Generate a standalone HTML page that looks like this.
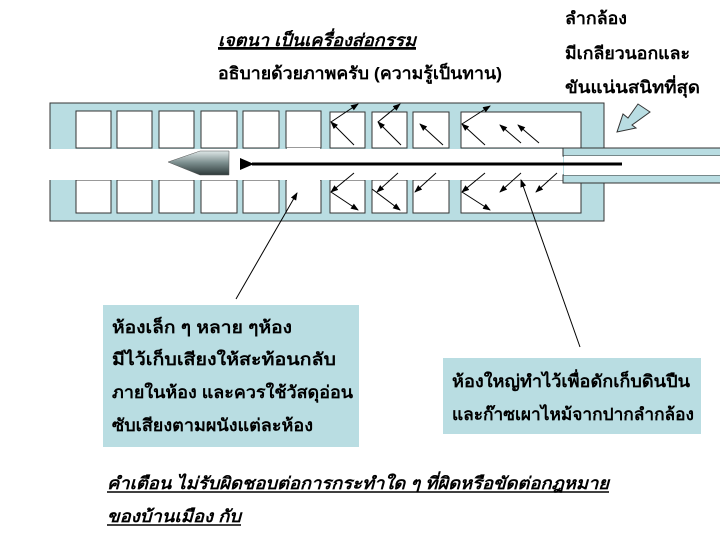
<!DOCTYPE html>
<html><head><meta charset="utf-8"><style>
html,body{margin:0;padding:0;background:#fff;}
svg{display:block}
text{font-family:"Liberation Sans","DejaVu Sans",sans-serif;font-weight:bold;fill:#000;}
</style></head><body>
<svg width="720" height="540" viewBox="0 0 720 540" xmlns="http://www.w3.org/2000/svg">
<defs>
<marker id="a" markerWidth="8" markerHeight="8" refX="7" refY="4" orient="auto" markerUnits="userSpaceOnUse"><path d="M0,1 L8,4 L0,7 Z" fill="#000"/></marker>
<marker id="b" markerWidth="14" markerHeight="12" refX="2" refY="6" orient="auto" markerUnits="userSpaceOnUse"><path d="M14,0 L0,6 L14,12 Z" fill="#000"/></marker>
<linearGradient id="g" x1="0" y1="0" x2="0" y2="1"><stop offset="0" stop-color="#dfe8e8"/><stop offset="0.5" stop-color="#7a8c8c"/><stop offset="1" stop-color="#2e3a3a"/></linearGradient>
</defs>
<!-- outer box -->
<rect x="50" y="103" width="554" height="118" fill="#b9dde2" stroke="#333" stroke-width="1"/>
<rect x="0" y="149" width="563" height="31" fill="#fff"/>
<g fill="#fff" stroke="#333" stroke-width="1">
<rect x="76" y="111" width="35" height="37"/><rect x="117" y="111" width="35" height="37"/><rect x="159" y="111" width="35" height="37"/><rect x="201" y="111" width="36" height="37"/><rect x="243" y="111" width="36" height="37"/><rect x="286" y="111" width="35" height="37"/><rect x="330" y="112" width="35" height="36"/><rect x="372" y="112" width="35" height="36"/><rect x="413" y="112" width="36" height="36"/><rect x="461" y="112" width="120" height="36"/>
<rect x="76" y="180" width="35" height="33"/><rect x="117" y="180" width="35" height="33"/><rect x="159" y="180" width="35" height="33"/><rect x="201" y="180" width="36" height="33"/><rect x="243" y="180" width="36" height="33"/><rect x="286" y="180" width="35" height="33"/><rect x="330" y="180" width="35" height="33"/><rect x="372" y="180" width="35" height="33"/><rect x="413" y="180" width="36" height="33"/><rect x="461" y="180" width="120" height="33"/>
</g>
<rect x="0" y="149" width="563" height="31" fill="#fff"/>
<rect x="287" y="148" width="33" height="33" fill="#fff"/>
<!-- barrel -->
<rect x="563" y="148" width="160" height="8" fill="#b9dde2" stroke="#333" stroke-width="1"/>
<rect x="563" y="175" width="160" height="8" fill="#b9dde2" stroke="#333" stroke-width="1"/>
<rect x="564" y="156" width="160" height="19" fill="#fff"/>
<!-- bullet -->
<path d="M168,162 L200,151 L229,151 L229,175 L200,175 Z" fill="url(#g)" stroke="#555" stroke-width="0.5"/>
<!-- main arrow -->
<line x1="622" y1="164" x2="252" y2="164" stroke="#000" stroke-width="3" marker-end="url(#b)"/>
<line x1="260" y1="164" x2="246" y2="164" stroke="#000" stroke-width="1"/>
<!-- small arrows -->
<g stroke="#000" stroke-width="1" marker-end="url(#a)">
<line x1="354" y1="145" x2="331" y2="122"/><line x1="331" y1="122" x2="358" y2="104"/>
<line x1="401" y1="145" x2="378" y2="122"/><line x1="378" y1="122" x2="400" y2="104"/>
<line x1="443" y1="145" x2="420" y2="124"/>
<line x1="485" y1="145" x2="462" y2="124"/><line x1="462" y1="124" x2="490" y2="106"/>
<line x1="521" y1="143" x2="500" y2="125"/><line x1="539" y1="143" x2="518" y2="125"/>
<line x1="354" y1="173" x2="331" y2="192"/><line x1="331" y1="192" x2="358" y2="210"/>
<line x1="398" y1="173" x2="377" y2="192"/><line x1="372" y1="189" x2="400" y2="210"/>
<line x1="436" y1="173" x2="415" y2="192"/>
<line x1="485" y1="173" x2="462" y2="192"/><line x1="462" y1="192" x2="490" y2="210"/>
<line x1="521" y1="173" x2="500" y2="192"/><line x1="557" y1="173" x2="536" y2="192"/>
<line x1="236" y1="299" x2="297" y2="193"/>
<line x1="580" y1="347" x2="521" y2="180"/>
</g>
<!-- hollow arrow -->
<path d="M650,112 L638,104 L628,118 L623,114 L617,132 L636,128 L632,125 Z" fill="#b9dde2" stroke="#333" stroke-width="1"/>
<!-- callouts -->
<rect x="103" y="305" width="256" height="142" fill="#b9dde2"/>
<rect x="443" y="358" width="258" height="76" fill="#b9dde2"/>
<!-- text -->
<g font-size="17">
<text x="218" y="46" font-style="italic" text-decoration="underline" textLength="198" lengthAdjust="spacingAndGlyphs">เจตนา เป็นเครื่องส่อกรรม</text>
<line x1="218" y1="49" x2="416" y2="49" stroke="#000" stroke-width="1.5"/>
<text x="218" y="79" textLength="284" lengthAdjust="spacingAndGlyphs">อธิบายด้วยภาพครับ (ความรู้เป็นทาน)</text>
<text x="565" y="24" textLength="62" lengthAdjust="spacingAndGlyphs">ลำกล้อง</text>
<text x="565" y="59" textLength="125" lengthAdjust="spacingAndGlyphs">มีเกลียวนอกและ</text>
<text x="565" y="93" textLength="135" lengthAdjust="spacingAndGlyphs">ขันแน่นสนิทที่สุด</text>
<text x="112" y="333" textLength="180" lengthAdjust="spacingAndGlyphs">ห้องเล็ก ๆ หลาย ๆห้อง</text>
<text x="112" y="365" textLength="224" lengthAdjust="spacingAndGlyphs">มีไว้เก็บเสียงให้สะท้อนกลับ</text>
<text x="112" y="398" textLength="241" lengthAdjust="spacingAndGlyphs">ภายในห้อง และควรใช้วัสดุอ่อน</text>
<text x="112" y="431" textLength="201" lengthAdjust="spacingAndGlyphs">ซับเสียงตามผนังแต่ละห้อง</text>
<text x="452" y="387" textLength="238" lengthAdjust="spacingAndGlyphs">ห้องใหญ่ทำไว้เพื่อดักเก็บดินปืน</text>
<text x="452" y="420" textLength="242" lengthAdjust="spacingAndGlyphs">และก๊าซเผาไหม้จากปากลำกล้อง</text>
<text x="107" y="489" font-style="italic" textLength="502" lengthAdjust="spacingAndGlyphs">คำเตือน  ไม่รับผิดชอบต่อการกระทำใด ๆ ที่ผิดหรือขัดต่อกฎหมาย</text>
<line x1="107" y1="492" x2="609" y2="492" stroke="#000" stroke-width="1.5"/>
<text x="107" y="522" font-style="italic" textLength="134" lengthAdjust="spacingAndGlyphs">ของบ้านเมือง กับ</text>
<line x1="107" y1="525" x2="241" y2="525" stroke="#000" stroke-width="1.5"/>
</g>
</svg>
</body></html>
